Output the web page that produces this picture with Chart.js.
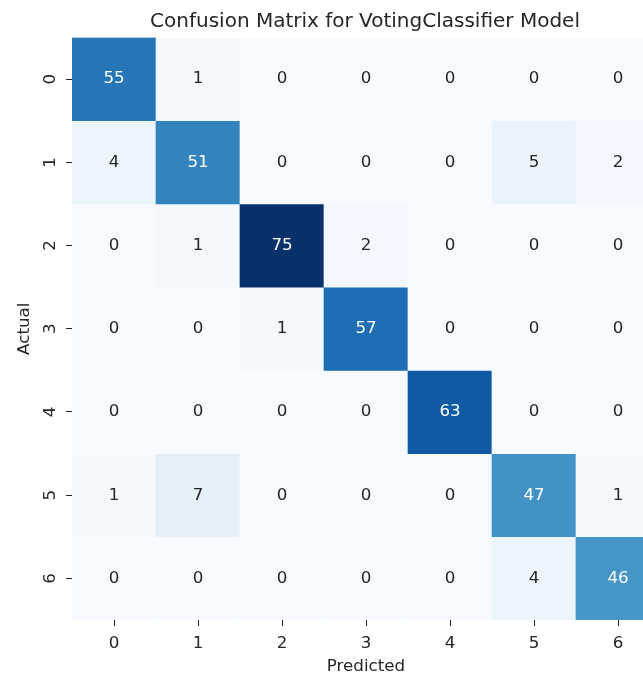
<!DOCTYPE html>
<html>
<head>
<meta charset="utf-8">
<title>Confusion Matrix</title>
<script src="https://cdn.jsdelivr.net/npm/chart.js@4.4.1/dist/chart.umd.min.js"></script>
<style>
  html, body { margin: 0; padding: 0; background: #fff; overflow: hidden; }
  #wrap { width: 643px; height: 677px; overflow: hidden; }
</style>
</head>
<body>
<div id="wrap"><canvas id="cm" width="730" height="677"></canvas></div>
<script>
// class labels (same for actual and predicted)
var classes = ['0', '1', '2', '3', '4', '5', '6'];

// one array per actual class, values per predicted class
var actual0 = [55, 1, 0, 0, 0, 0, 0];
var actual1 = [4, 51, 0, 0, 0, 5, 2];
var actual2 = [0, 1, 75, 2, 0, 0, 0];
var actual3 = [0, 0, 1, 57, 0, 0, 0];
var actual4 = [0, 0, 0, 0, 63, 0, 0];
var actual5 = [1, 7, 0, 0, 0, 47, 1];
var actual6 = [0, 0, 0, 0, 0, 4, 46];

var matrix = [actual0, actual1, actual2, actual3, actual4, actual5, actual6];

var textDark = '#262626';
var fontFamily = '"DejaVu Sans", sans-serif';

// matplotlib "Blues"
var blues = [
  [247, 251, 255], [222, 235, 247], [198, 219, 239], [158, 202, 225],
  [107, 174, 214], [66, 146, 198], [33, 113, 181], [8, 81, 156], [8, 48, 107]
];
var vmin = 0;
var vmax = Math.max.apply(null, matrix.map(function (r) { return Math.max.apply(null, r); }));

function bluesAt(v) {
  var t = (v - vmin) / (vmax - vmin);
  var pos = Math.min(Math.max(t, 0), 1) * (blues.length - 1);
  var i = Math.min(Math.floor(pos), blues.length - 2);
  var f = pos - i;
  var a = blues[i], b = blues[i + 1];
  return [0, 1, 2].map(function (k) { return Math.round(a[k] + (b[k] - a[k]) * f); });
}

function luminance(rgb) {
  var c = rgb.map(function (x) {
    x = x / 255;
    return x <= 0.03928 ? x / 12.92 : Math.pow((x + 0.055) / 1.055, 2.4);
  });
  return 0.2126 * c[0] + 0.7152 * c[1] + 0.0722 * c[2];
}

function rgbStr(rgb) { return 'rgb(' + rgb.join(',') + ')'; }

// each actual row is one dataset of floating bars spanning its row
var datasets = matrix.map(function (row, r) {
  return {
    label: 'Actual ' + classes[r],
    data: row.map(function () { return [r - 0.5, r + 0.5]; }),
    counts: row,
    backgroundColor: row.map(function (v) { return rgbStr(bluesAt(v)); }),
    grouped: false,
    categoryPercentage: 1,
    barPercentage: 1,
    borderWidth: 0,
    borderSkipped: false
  };
});

// write the count in the middle of every cell
var cellText = {
  id: 'cellText',
  afterDatasetsDraw: function (chart) {
    var ctx = chart.ctx;
    ctx.save();
    ctx.font = '16.7px ' + fontFamily;
    ctx.textAlign = 'center';
    ctx.textBaseline = 'middle';
    chart.data.datasets.forEach(function (ds, r) {
      chart.getDatasetMeta(r).data.forEach(function (bar, c) {
        var v = ds.counts[c];
        ctx.fillStyle = luminance(bluesAt(v)) <= 0.408 ? '#ffffff' : textDark;
        ctx.fillText(String(v), bar.x, (bar.y + bar.base) / 2);
      });
    });
    ctx.restore();
  }
};

var tickFont = { family: fontFamily, size: 16.7 };

new Chart(document.getElementById('cm'), {
  type: 'bar',
  data: { labels: classes, datasets: datasets },
  plugins: [cellText],
  options: {
    responsive: false,
    animation: false,
    layout: { padding: 0 },
    plugins: {
      legend: { display: false },
      tooltip: { enabled: false },
      title: {
        display: true,
        text: 'Confusion Matrix for VotingClassifier Model',
        color: textDark,
        font: { family: fontFamily, size: 20, weight: 'normal' },
        padding: { top: 10, bottom: 3.5 }
      }
    },
    scales: {
      x: {
        type: 'category',
        offset: true,
        border: { display: false },
        grid: { drawOnChartArea: false, drawTicks: true, tickLength: 6, tickColor: textDark, tickWidth: 1, offset: false },
        ticks: { color: textDark, font: tickFont, padding: 7.7, maxRotation: 0 },
        title: { display: true, text: 'Predicted', color: textDark, font: tickFont, padding: { top: 0, bottom: 0.5 } },
        afterFit: function (s) { s.height = 57; }
      },
      y: {
        type: 'linear',
        min: -0.5,
        max: 6.5,
        reverse: true,
        border: { display: false },
        grid: { drawOnChartArea: false, drawTicks: true, tickLength: 6, tickColor: textDark, tickWidth: 1 },
        afterBuildTicks: function (s) {
          s.ticks = classes.map(function (c, i) { return { value: i }; });
        },
        ticks: {
          color: textDark,
          font: tickFont,
          padding: 10,
          minRotation: 90,
          maxRotation: 90,
          crossAlign: 'center',
          callback: function (v) { return classes[v]; }
        },
        title: { display: true, text: 'Actual', color: textDark, font: tickFont, padding: { top: 15, bottom: 0 } },
        afterFit: function (s) { s.width = 72; }
      },
      // empty axis on the right so the title centres over the grid
      yRight: {
        type: 'linear',
        position: 'right',
        display: true,
        border: { display: false },
        grid: { display: false },
        ticks: { display: false },
        afterFit: function (s) { s.width = 70; }
      }
    }
  }
});
</script>
</body>
</html>
